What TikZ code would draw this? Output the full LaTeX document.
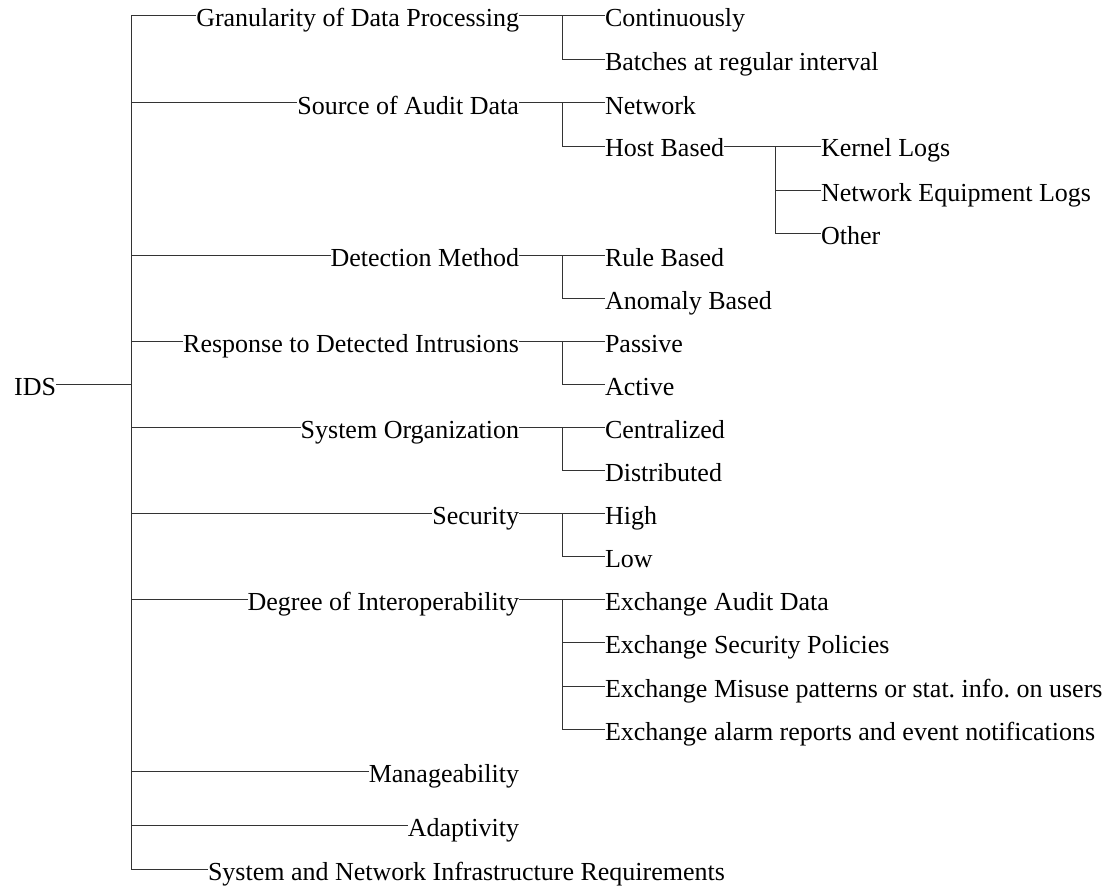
\documentclass[tikz,border=0pt]{standalone}
\usepackage{fontspec}
\setmainfont{Liberation Serif}
\frenchspacing
\begin{document}
\begin{tikzpicture}[x=1pt,y=-1pt,
  lbl/.style={inner sep=0pt, outer sep=0pt, text height=22pt, text depth=0pt,
              font=\fontsize{26}{30}\selectfont},
  branch/.style={draw=black!80, line width=1pt}]
\useasboundingbox (0,0) rectangle (1110,888);

% column positions of the vertical bars
\coordinate (c1) at (131,0);
\coordinate (c2) at (562,0);
\coordinate (c3) at (775,0);

% root
\node[lbl, anchor=east] (ids) at (56,384) {IDS};

% first level
\node[lbl, anchor=east] (gran) at (519,16)  {Granularity of Data Processing};
\node[lbl, anchor=east] (src)  at (519,103) {Source of Audit Data};
\node[lbl, anchor=east] (det)  at (519,255) {Detection Method};
\node[lbl, anchor=east] (resp) at (519,341) {Response to Detected Intrusions};
\node[lbl, anchor=east] (sys)  at (519,427) {System Organization};
\node[lbl, anchor=east] (sec)  at (519,513) {Security};
\node[lbl, anchor=east] (deg)  at (519,599) {Degree of Interoperability};
\node[lbl, anchor=east] (man)  at (519,771) {Manageability};
\node[lbl, anchor=east] (ada)  at (519,825) {Adaptivity};
\node[lbl, anchor=west] (snir) at (208,869) {System and Network Infrastructure Requirements};

% second level
\node[lbl, anchor=west] (cont)  at (605,16)  {Continuously};
\node[lbl, anchor=west] (batch) at (605,60)  {Batches at regular interval};
\node[lbl, anchor=west] (net)   at (605,103) {Network};
\node[lbl, anchor=west] (host)  at (605,146) {Host Based};
\node[lbl, anchor=west] (rule)  at (605,255) {Rule Based};
\node[lbl, anchor=west] (anom)  at (605,298) {Anomaly Based};
\node[lbl, anchor=west] (pass)  at (605,341) {Passive};
\node[lbl, anchor=west] (act)   at (605,384) {Active};
\node[lbl, anchor=west] (cent)  at (605,427) {Centralized};
\node[lbl, anchor=west] (dist)  at (605,470) {Distributed};
\node[lbl, anchor=west] (high)  at (605,513) {High};
\node[lbl, anchor=west] (low)   at (605,556) {Low};
\node[lbl, anchor=west] (ex1)   at (605,599) {Exchange Audit Data};
\node[lbl, anchor=west] (ex2)   at (605,642) {Exchange Security Policies};
\node[lbl, anchor=west] (ex3)   at (605,686) {Exchange Misuse patterns or stat. info. on users};
\node[lbl, anchor=west] (ex4)   at (605,729) {Exchange alarm reports and event notifications};

% third level
\node[lbl, anchor=west] (kern) at (821,146) {Kernel Logs};
\node[lbl, anchor=west] (neq)  at (821,190) {Network Equipment Logs};
\node[lbl, anchor=west] (oth)  at (821,233) {Other};

% root to first level
\draw[branch] (ids.east) -- (c1 |- ids.east);
\draw[branch] (c1 |- gran.west) -- (c1 |- snir.west);
\foreach \n in {gran,src,det,resp,sys,sec,deg,man,ada,snir}
  \draw[branch] (c1 |- \n.west) -- (\n.west);

% first level to second level
\foreach \p/\a/\b in {gran/cont/batch, src/net/host, det/rule/anom,
                      resp/pass/act, sys/cent/dist, sec/high/low}{
  \draw[branch] (\p.east) -- (\a.west);
  \draw[branch] (c2 |- \a.west) |- (\b.west);
}
\draw[branch] (deg.east) -- (ex1.west);
\draw[branch] (c2 |- ex1.west) |- (ex4.west);
\draw[branch] (c2 |- ex2.west) -- (ex2.west);
\draw[branch] (c2 |- ex3.west) -- (ex3.west);

% second level to third level
\draw[branch] (host.east) -- (kern.west);
\draw[branch] (c3 |- kern.west) |- (oth.west);
\draw[branch] (c3 |- neq.west) -- (neq.west);
\end{tikzpicture}
\end{document}
